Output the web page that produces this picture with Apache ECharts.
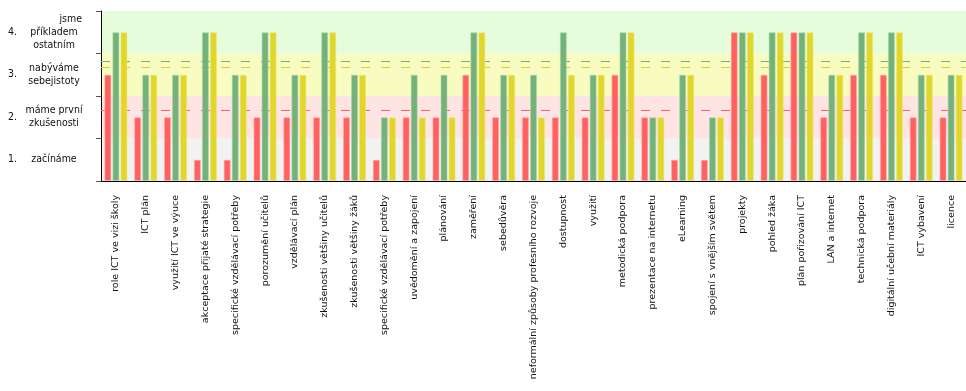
<!DOCTYPE html>
<html>
<head>
<meta charset="utf-8">
<script src="https://cdn.jsdelivr.net/npm/echarts@6/dist/echarts.min.js"></script>
<style>html,body{margin:0;padding:0;background:#fff}#c{width:966px;height:391px}</style>
</head>
<body>
<div id="c"></div>
<script>
const categories = ["role ICT ve vizi školy","ICT plán","využití ICT ve výuce","akceptace přijaté strategie","specifické vzdělávací potřeby","porozumění učitelů","vzdělávací plán","zkušenosti většiny učitelů","zkušenosti většiny žáků","specifické vzdělávací potřeby","uvědomění a zapojení","plánování","zaměření","sebedůvěra","neformální způsoby profesního rozvoje","dostupnost","využití","metodická podpora","prezentace na internetu","eLearning","spojení s vnějším světem","projekty","pohled žáka","plán pořizování ICT","LAN a internet","technická podpora","digitální učební materiály","ICT vybavení","licence"];
const redValues    = [2.5,1.5,1.5,0.5,0.5,1.5,1.5,1.5,1.5,0.5,1.5,1.5,2.5,1.5,1.5,1.5,1.5,2.5,1.5,0.5,0.5,3.5,2.5,3.5,1.5,2.5,2.5,1.5,1.5];
const greenValues  = [3.5,2.5,2.5,3.5,2.5,3.5,2.5,3.5,2.5,1.5,2.5,2.5,3.5,2.5,2.5,3.5,2.5,3.5,1.5,2.5,1.5,3.5,3.5,3.5,2.5,3.5,3.5,2.5,2.5];
const yellowValues = [3.5,2.5,2.5,3.5,2.5,3.5,2.5,3.5,2.5,1.5,1.5,1.5,3.5,2.5,1.5,2.5,2.5,3.5,1.5,2.5,1.5,3.5,3.5,3.5,2.5,3.5,3.5,2.5,2.5];
const levelNumbers = ["1.","2.","3.","4."];
const levelTexts = [
  "{c|začínáme}",
  "{c|máme první}\n{c|zkušenosti}",
  "{c|nabýváme}\n{c|sebejistoty}",
  "{r|jsme}\n{c|příkladem}\n{c|ostatním}"
];
const bandColors = ["#f2f2f2","#ffe4e4","#f8fcc0","#e6fddc"];

const FONT = "DejaVu Sans Condensed";
const XFONT = "DejaVu Sans";
const TEXT = '#111';
const chart = echarts.init(document.getElementById('c'));

function levelIndex(v){ return Math.floor(v); }

const barBase = {
  type: 'bar',
  barWidth: 7,
  barGap: '15%',
  yAxisIndex: 0,
  z: 2
};
function avgLine(color){
  return {
    silent: true, symbol: 'none', z: 1,
    label: {show: false},
    lineStyle: {color: color, type: [9, 11], width: 1},
    data: [{type: 'average'}]
  };
}

chart.setOption({
  animation: false,
  textStyle: {fontFamily: FONT},
  grid: {left: 101, right: 0, top: 11, bottom: 210},
  xAxis: {
    type: 'category', data: categories,
    axisLine: {lineStyle: {color: '#000'}},
    axisTick: {alignWithLabel: true, length: 4, lineStyle: {color: '#000'}},
    axisLabel: {rotate: 90, margin: 14, fontSize: 9.5, color: TEXT, fontFamily: XFONT, interval: 0}
  },
  yAxis: [
    {type: 'value', min: 0, max: 4, interval: 1,
     axisLine: {show: true, lineStyle: {color: '#000'}},
     axisTick: {show: true, length: 5, lineStyle: {color: '#555'}},
     splitLine: {show: false}, axisLabel: {show: false},
     splitArea: {show: true, areaStyle: {color: bandColors}}},
    {type: 'value', min: 0, max: 4, interval: 0.5, position: 'left',
     axisLine: {show: false}, axisTick: {show: false}, splitLine: {show: false},
     axisLabel: {margin: 47, fontSize: 10.5, color: TEXT, fontFamily: FONT, align: 'center',
       lineHeight: 13,
       rich: {
         c: {fontSize: 10.5, fontFamily: FONT, color: TEXT, lineHeight: 13},
         r: {fontSize: 10.5, fontFamily: FONT, color: TEXT, lineHeight: 13, width: 56, align: 'right'}
       },
       formatter: v => (v % 1 === 0.5) ? levelTexts[levelIndex(v)] : ''}},
    {type: 'value', min: 0, max: 4, interval: 0.5, position: 'left',
     axisLine: {show: false}, axisTick: {show: false}, splitLine: {show: false},
     axisLabel: {margin: 84, fontSize: 10.5, color: TEXT, fontFamily: FONT, align: 'right',
       formatter: v => (v % 1 === 0.5) ? levelNumbers[levelIndex(v)] : ''}}
  ],
  series: [
    Object.assign({}, barBase, {name: 'red', data: redValues,
      itemStyle: {color: '#ff6161', borderColor: 'rgba(255,170,170,0.6)', borderWidth: 1},
      markLine: avgLine('#ff6161')}),
    Object.assign({}, barBase, {name: 'green', data: greenValues,
      itemStyle: {color: '#74b27a', borderColor: 'rgba(170,215,170,0.6)', borderWidth: 1},
      markLine: avgLine('#74b27a')}),
    Object.assign({}, barBase, {name: 'yellow', data: yellowValues,
      itemStyle: {color: '#e0d62c', borderColor: 'rgba(240,230,120,0.6)', borderWidth: 1},
      markLine: avgLine('#d8d030')})
  ]
});
</script>
</body>
</html>
